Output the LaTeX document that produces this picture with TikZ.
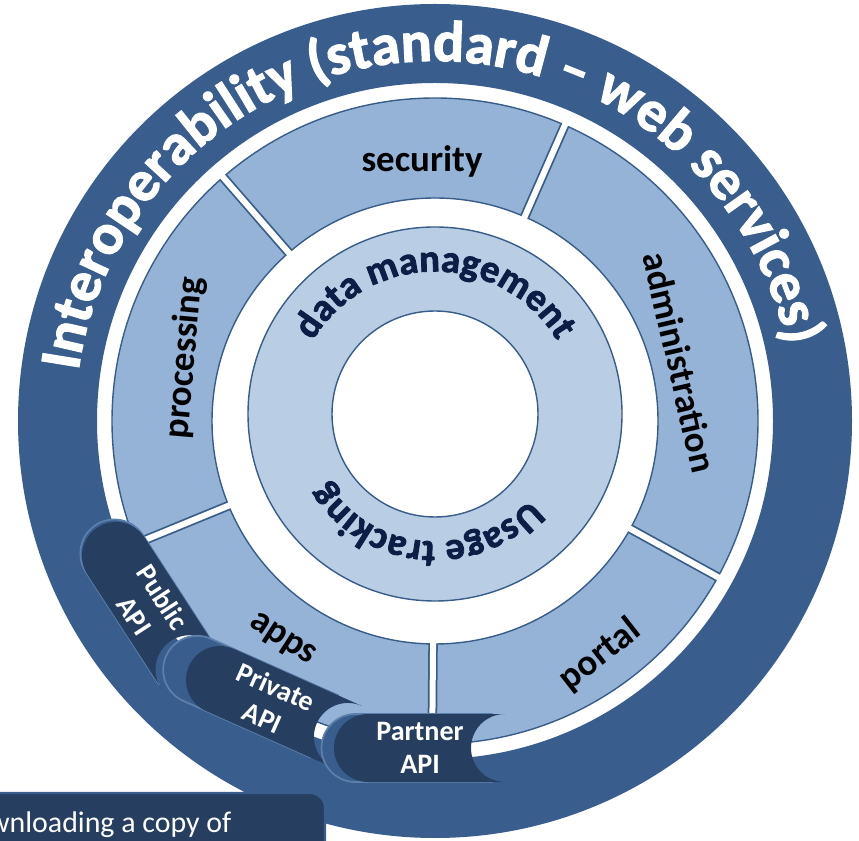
\documentclass[tikz,border=0pt]{standalone}
\usepackage{fontspec}
\setmainfont{Carlito}
\newfontfamily\heavyfont{Carlito}[BoldFeatures={FakeBold=2}]
\usetikzlibrary{decorations.text,calc}

\definecolor{ringblue}{RGB}{57,94,141}
\definecolor{segblue}{RGB}{149,179,215}
\definecolor{lightblue}{RGB}{185,205,229}
\definecolor{edgeblue}{RGB}{56,93,138}
\definecolor{navy}{RGB}{38,62,96}
\definecolor{curlblue}{RGB}{92,128,172}
\definecolor{textnavy}{RGB}{12,30,70}

\begin{document}
\begin{tikzpicture}[
    ringtext/.style={decorate, decoration={text along path, text align=center, text color=#1}},
    seglabel/.style={font=\bfseries\fontsize{21}{21}\selectfont, text=black},
    tabshape/.style={fill=navy},
    curlshape/.style={fill=ringblue, draw=curlblue, line width=1pt},
    tablabel/.style={font=\bfseries\fontsize{16}{19}\selectfont, text=white, align=center},
]
    \clip (0,0) rectangle (17.18,16.8);
    \coordinate (c) at (8.70,8.38);
    \coordinate (m) at (8.70,8.52);

    % outer ring
    \fill[ringblue, even odd rule] (c) circle[radius=8.34] (c) circle[radius=6.76];
    % segments
    \filldraw[fill=segblue, draw=edgeblue, line width=0.8pt, even odd rule] (c) circle[radius=6.46] (c) circle[radius=4.46];
    \foreach \a in {131,66.3,-28.9,-90.5,202.3} {
        \draw[edgeblue, line width=0.19cm] ($(c)+(\a:4.46)$) -- ($(c)+(\a:6.46)$);
        \draw[white, line width=0.12cm] ($(c)+(\a:4.40)$) -- ($(c)+(\a:6.52)$);
    }
    % data ring
    \filldraw[fill=lightblue, draw=edgeblue, line width=0.8pt, even odd rule] (m) circle[radius=3.74] (m) circle[radius=2.06];

    % curved texts
    \path[ringtext=white, decoration={text={|\heavyfont\bfseries\fontsize{33}{33}\selectfont|Interoperability (standard – web services)}}]
        ($(c)+(185:7.2)$) arc[start angle=185, end angle=-1, radius=7.2];
    \path[ringtext=textnavy, decoration={text={|\heavyfont\bfseries\fontsize{22}{22}\selectfont|data management}}]
        ($(m)+(175:2.85)$) arc[start angle=175, end angle=5, radius=2.85];
    \path[ringtext=textnavy, decoration={text={|\heavyfont\bfseries\fontsize{22}{22}\selectfont|Usage tracking}}]
        ($(m)+(-5:2.55)$) arc[start angle=-5, end angle=-185, radius=2.55];

    \node[seglabel, anchor=base] (security) at (8.44,13.36) {security};
    \node[seglabel, rotate=85] (processing) at (3.70,9.64) {processing};
    \node[seglabel, rotate=-77] (administration) at (13.6,9.56) {administration};
    \node[seglabel, rotate=38] (portal) at (12.0,3.7) {portal};
    \node[seglabel, rotate=-33] (apps) at (5.64,4.0) {apps};

    % API tabs
    \foreach \px/\py/\ang/\len/\curl/\off/\txt/\nm in {2.32/5.68/-57/2.7/0.06/1.2/{Public\\API}/public,
            4.40/3.20/-24/2.8/0.5/1.08/{Private\\API}/private,
            7.36/1.84/0/2.74/0.25/1.04/{Partner\\API}/partner} {
        \begin{scope}[shift={(\px,\py)}, rotate=\ang]
            \filldraw[curlshape, xshift=-\curl cm] (0,0.68) -- (\len,0.68) arc[start angle=90, end angle=270, radius=0.68]
                -- (0,-0.68) arc[start angle=-90, end angle=-270, radius=0.68] -- cycle;
            \fill[tabshape] (0,0.68) -- (\len,0.68) arc[start angle=90, end angle=270, radius=0.68]
                -- (0,-0.68) arc[start angle=-90, end angle=-270, radius=0.68] -- cycle;
            \node[tablabel, transform shape] (\nm) at (\off,0) {\txt};
        \end{scope}
    }

    % caption box
    \filldraw[fill=navy, draw=ringblue, line width=1.2pt, rounded corners=0.3cm] (-0.5,-0.5) rectangle (6.5,0.94);
    \node[anchor=base west, text=white, font=\fontsize{17}{17}\selectfont, inner sep=0] (download) at (-0.24,0.16) {wnloading a copy of};
\end{tikzpicture}
\end{document}
